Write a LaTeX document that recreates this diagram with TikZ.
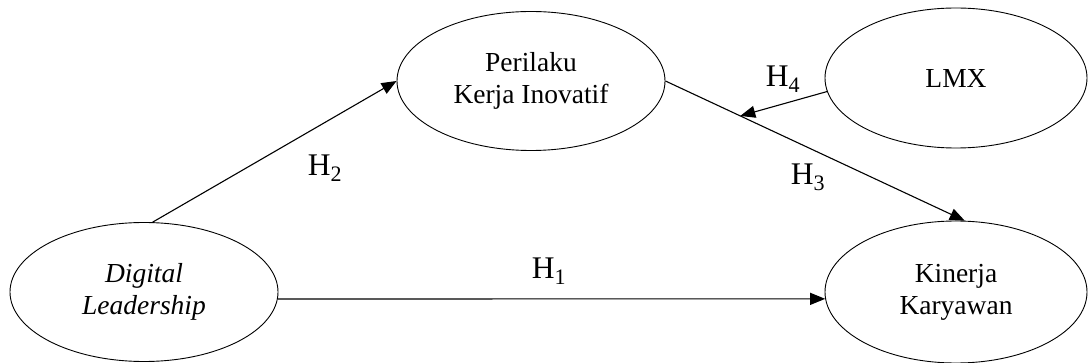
\documentclass[tikz,border=0pt]{standalone}
\usepackage{fontspec}
\setmainfont{Liberation Serif}
\usetikzlibrary{arrows.meta,shapes.geometric}

\begin{document}
\begin{tikzpicture}[x=1pt,y=-1pt,
  construct/.style={ellipse,draw,line width=0.9pt,minimum width=268pt,
    minimum height=139pt,inner sep=0pt,align=center,
    font=\fontsize{27.5}{32}\selectfont},
  link/.style={line width=1.1pt,-{Triangle[length=15pt,width=12pt]}},
  hyp/.style={font=\fontsize{31.5}{36}\selectfont,inner sep=0pt}]
\useasboundingbox (0,0) rectangle (1089,363);

% constructs
\node[construct] (dl)  at (144,292) {\textit{Digital}\\\textit{Leadership}};
\node[construct] (pki) at (531,81)  {Perilaku\\Kerja Inovatif};
\node[construct,minimum width=262pt,minimum height=140pt] (lmx) at (956,78)  {LMX};
\node[construct,minimum width=262pt,minimum height=142pt] (kk)  at (956,292) {Kinerja\\Karyawan};

% hypothesised paths
\draw[link] (dl.-3) -- (kk.183);
\draw[link] (dl.83) -- (pki.west);
\draw[link] (pki.east) -- coordinate[pos=0.25] (mod) (kk.83);
\draw[link] (lmx.186) -- (mod);

% path labels
\node[hyp] (h1) at (549,271) {H\textsubscript{1}};
\node[hyp] (h2) at (325,168) {H\textsubscript{2}};
\node[hyp] (h3) at (808,177) {H\textsubscript{3}};
\node[hyp] (h4) at (783,79)  {H\textsubscript{4}};
\end{tikzpicture}
\end{document}
